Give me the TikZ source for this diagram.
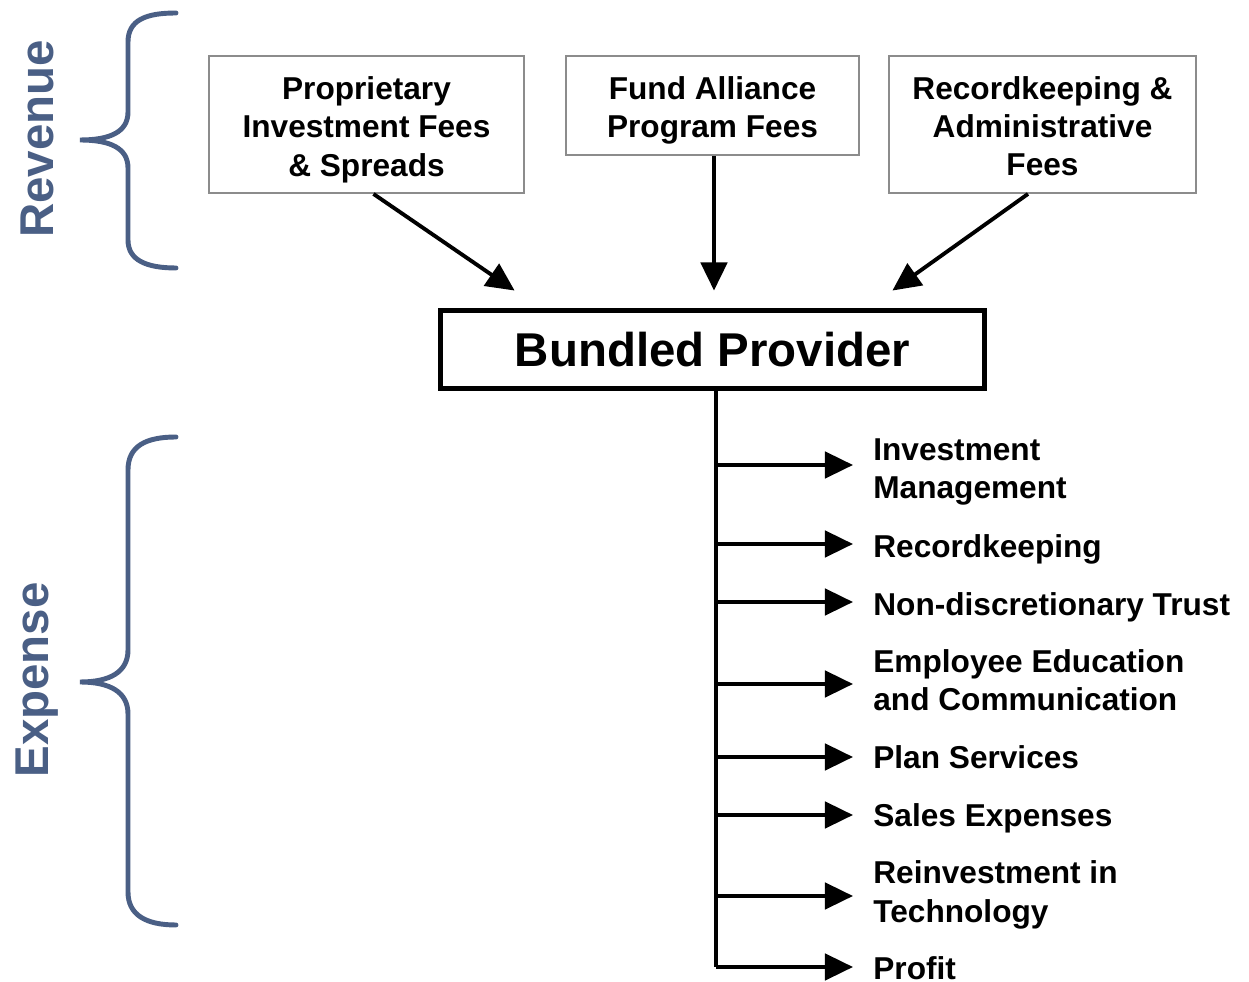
\documentclass[tikz,border=0pt]{standalone}
\usepackage{fontspec}
\setmainfont{Liberation Sans}
\usepackage{xcolor}
\definecolor{BraceBlue}{HTML}{4A5F85}
\definecolor{FrameGray}{HTML}{8C8C8C}
\usetikzlibrary{arrows.meta, positioning, calc}

% taller first line pushes the text block down a bit
\newcommand{\dropline}[1]{\rule{0pt}{#1}}

\begin{document}
\begin{tikzpicture}[
  x=0.02cm, y=-0.02cm,
  % === STYLES ===
  % fee boxes (revenue side)
  feebox/.style={
    draw=FrameGray,
    line width=1.1pt,
    minimum width=#1,
    align=center,
    inner sep=0pt,
    font=\fontsize{18}{21.8}\selectfont\bfseries
  },
  % the provider in the middle
  provider/.style={
    draw=black,
    line width=2.8pt,
    minimum width=10.88cm,
    minimum height=1.56cm,
    font=\fontsize{27}{32}\selectfont\bfseries
  },
  % cost items (expense side)
  costlbl/.style={
    anchor=west,
    align=left,
    inner sep=0pt,
    font=\fontsize{18}{21.8}\selectfont\bfseries
  },
  % big side labels
  sidelbl/.style={
    rotate=90,
    text=BraceBlue,
    font=\fontsize{27}{32}\selectfont\bfseries
  },
  curly/.style={
    draw=BraceBlue,
    line width=2.8pt,
    line cap=round
  },
  % arrows
  flow/.style={
    draw=black,
    line width=2.2pt,
    -{Triangle[length=16pt,width=15pt]}
  }
]

% background / page size
\useasboundingbox[fill=white] (0,0) rectangle (1249,982);

% --- revenue boxes ---
\node[feebox=6.3cm, minimum height=2.74cm] (prop) at (366.5,124.5)
  {\dropline{19pt}Proprietary\\Investment Fees\\\& Spreads};
\node[feebox=5.86cm, minimum height=1.98cm] (fund) at (712.5,105.5)
  {\dropline{19pt}Fund Alliance\\Program Fees};
\node[feebox=6.14cm, minimum height=2.74cm] (admin) at (1042.5,124.5)
  {\dropline{15pt}Recordkeeping \&\\Administrative\\Fees};

% --- provider ---
\node[provider] (main) at (712.5,349.5) {Bundled Provider};

\draw[flow] ($(prop.south)+(7,0)$) -- ($(main.north west)+(76.5,-17.5)$);
\draw[flow] ($(fund.south)+(1.5,0)$) -- ($(main.north)+(1.5,-17.5)$);
\draw[flow] ($(admin.south)+(-14.5,0)$) -- ($(main.north east)+(-94.5,-17.5)$);

% --- expense items (name / y / arrow offset / text) ---
\foreach \name/\y/\dy/\txt in {
    inv/472/-7/{Investment\\Management},
    rk/549/-5/{Recordkeeping},
    trust/607/-5/{Non-discretionary Trust},
    edu/680/4/{Employee Education\\and Communication},
    plan/757/0/{Plan Services},
    sales/818/-3/{Sales Expenses},
    tech/895/1/{Reinvestment in\\Technology},
    profit/968/-1/{Profit}} {
  \node[costlbl] (\name) at (873,\y) {\txt};
  \coordinate (\name-in) at ($(\name.west)+(0,\dy)$);
}

% spine down from the provider
\coordinate (spine) at ($(main.south)+(3.5,0)$);
\draw[line width=2.2pt] (spine) -- (spine |- profit-in);
\foreach \name in {inv, rk, trust, edu, plan, sales, tech, profit} {
  \draw[flow, shorten >=0.4cm] (spine |- \name-in) -- (\name-in);
}

% --- braces ---
\draw[curly] (176,13) .. controls (146,13) and (128,20) .. (128,42)
  -- (128,112) .. controls (128,132) and (110,140) .. (80,140)
  .. controls (110,140) and (128,148) .. (128,168)
  -- (128,240) .. controls (128,260) and (146,268) .. (176,268);
\draw[curly] (176,437) .. controls (146,437) and (128,446) .. (128,470)
  -- (128,650) .. controls (128,672) and (110,682) .. (80,682)
  .. controls (110,682) and (128,692) .. (128,714)
  -- (128,892) .. controls (128,915) and (146,925) .. (176,925);

\node[sidelbl] (rev) at (37,139) {Revenue};
\node[sidelbl] (exp) at (37,680) {Expense};

\end{tikzpicture}
\end{document}
